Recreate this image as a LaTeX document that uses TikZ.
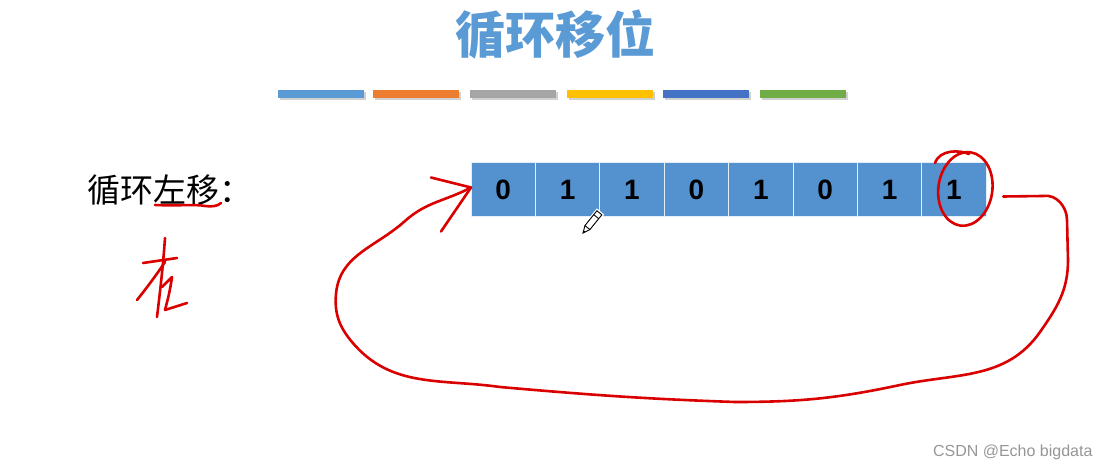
\documentclass[tikz,border=0pt]{standalone}
\usepackage{fontspec}
\setmainfont{Liberation Sans}
\newfontfamily\cjk{Noto Sans CJK SC}
\usepackage{tikz}
\usetikzlibrary{positioning}
\definecolor{rsblue}{RGB}{91,155,213}
\definecolor{rscell}{RGB}{83,145,207}
\definecolor{rsorange}{RGB}{237,125,49}
\definecolor{rsgray}{RGB}{165,165,165}
\definecolor{rsgold}{RGB}{255,192,0}
\definecolor{rsnavy}{RGB}{68,114,196}
\definecolor{rsgreen}{RGB}{112,173,71}
\definecolor{rsred}{RGB}{218,0,0}
\definecolor{rsmark}{RGB}{150,150,150}
\tikzset{
  rsbit/.style={
    draw=white!85!rscell,
    fill=rscell,
    line width=1pt,
    outer sep=0pt,
    minimum width=64.4pt,
    minimum height=53pt,
    font=\fontsize{28}{30}\selectfont\bfseries
  },
  rsbar/.style={line width=8pt},
  rspen/.style={draw=rsred, line width=2.6pt, line cap=round, line join=round}
}
\begin{document}
\begin{tikzpicture}[x=1pt, y=1pt]
\useasboundingbox (0,0) rectangle (1105,472);
% title and colour strip
\node[text=rsblue, font=\cjk\fontsize{50}{54}\selectfont\bfseries] (title) at (555,437) {循环移位};
\foreach \xa/\col in {278/rsblue, 373/rsorange, 470/rsgray, 567/rsgold, 663/rsnavy, 760/rsgreen}{
  \draw[rsbar, black!18] (\xa+1.5,375.5) -- ++(86,0);
  \draw[rsbar, \col] (\xa,377.5) -- ++(86,0);
}
% label
\node[anchor=west, font=\cjk\fontsize{33}{36}\selectfont] (lbl) at (84,282) {循环左移：};
% bits
\node[rsbit] (b0) at (503.2,282.5) {0};
\node[rsbit, right=0pt of b0] (b1) {1};
\node[rsbit, right=0pt of b1] (b2) {1};
\node[rsbit, right=0pt of b2] (b3) {0};
\node[rsbit, right=0pt of b3] (b4) {1};
\node[rsbit, right=0pt of b4] (b5) {0};
\node[rsbit, right=0pt of b5] (b6) {1};
\node[rsbit, right=0pt of b6] (b7) {1};
% pencil cursor
\begin{scope}[shift={(583,239)}, rotate=51]
  \draw[line width=1.6pt, white] (0,0) -- (7,4) -- (27,4) -- (27,-4) -- (7,-4) -- cycle;
  \draw[line width=0.9pt, fill=white] (0,0) -- (7,3.2) -- (26,3.2) -- (26,-3.2) -- (7,-3.2) -- cycle;
  \draw[line width=0.9pt] (7,3.2) -- (7,-3.2) (21,3.2) -- (21,-3.2);
  \fill (0,0) -- (2.5,1.2) -- (2.5,-1.2) -- cycle;
\end{scope}
% red handwriting
\draw[rspen] (155,267) .. controls (180,266) and (195,268) .. (205,266) .. controls (212,265) and (218,266) .. (221,269);
\draw[rspen] (165,234) .. controls (163,205) and (160,180) .. (157,155);
\draw[rspen] (143,209) -- (177,214);
\draw[rspen] (165,210) .. controls (155,195) and (145,182) .. (137,172);
\draw[rspen] (162,185) -- (172,195) .. controls (170,180) and (167,170) .. (165,162) -- (187,169);
\draw[rspen, rotate around={-8:(952,188)}] (952,284) ellipse (27 and 37);
\draw[rspen] (935,309) .. controls (940,323) and (960,322) .. (969,318);
% wrap-around arrow
\draw[rspen] ([xshift=17pt, yshift=-7pt]b7.east) -- (1043,276)
  to[out=10, in=90] (1067,252) -- (1068,212)
  to[out=-90, in=55] (1040,140)
  to[out=-125, in=12] (900,87)
  to[out=-168, in=0] (735,70)
  to[out=178, in=-5] (500,85)
  to[out=172, in=-50] (352,130)
  to[out=130, in=-95] (336,178)
  to[out=85, in=-138] (405,251)
  to[out=42, in=-152] ([yshift=2pt]b0.west);
\draw[rspen] ([xshift=-40pt, yshift=12pt]b0.west) -- ([yshift=2pt]b0.west) -- ([xshift=-30pt, yshift=-42pt]b0.west);
% watermark
\node[anchor=east, text=rsmark, font=\fontsize{16}{18}\selectfont] (mark) at (1096,20) {CSDN @Echo bigdata};
\end{tikzpicture}
\end{document}
